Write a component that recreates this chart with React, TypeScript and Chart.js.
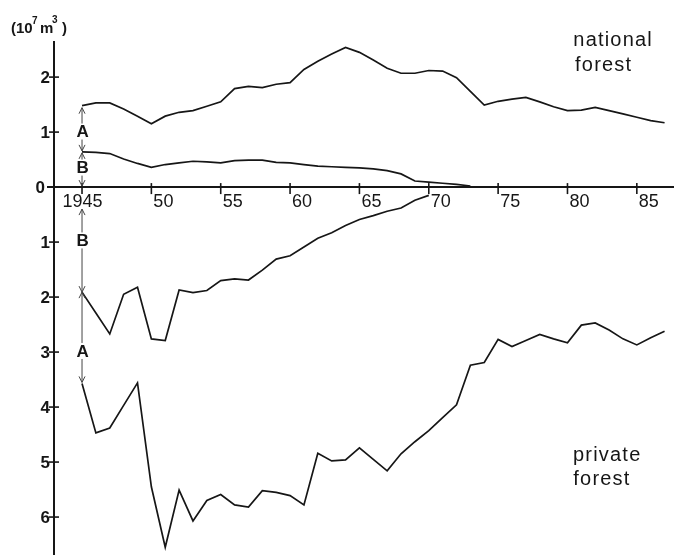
import React, { useEffect, useRef } from 'react';
import { Chart, registerables } from 'chart.js';

Chart.register(...registerables);

// ---- data (10^7 m3) ----
const years = [
  1945, 1946, 1947, 1948, 1949, 1950, 1951, 1952, 1953, 1954,
  1955, 1956, 1957, 1958, 1959, 1960, 1961, 1962, 1963, 1964,
  1965, 1966, 1967, 1968, 1969, 1970, 1971, 1972, 1973, 1974,
  1975, 1976, 1977, 1978, 1979, 1980, 1981, 1982, 1983, 1984,
  1985, 1986, 1987,
];

// national forest: total (A + B), plotted above the axis
const nationalTotal = [
  1.48, 1.53, 1.53, 1.42, 1.29, 1.15, 1.29, 1.36, 1.39, 1.47,
  1.55, 1.79, 1.83, 1.81, 1.87, 1.90, 2.14, 2.29, 2.42, 2.54,
  2.45, 2.31, 2.16, 2.07, 2.07, 2.12, 2.11, 1.99, 1.74, 1.49,
  1.56, 1.60, 1.63, 1.55, 1.46, 1.39, 1.40, 1.45, 1.39, 1.33,
  1.27, 1.21, 1.17,
];

// national forest: part B (1945-1973)
const nationalB = [
  0.64, 0.63, 0.61, 0.51, 0.43, 0.36, 0.41, 0.44, 0.47, 0.46,
  0.44, 0.48, 0.49, 0.49, 0.45, 0.44, 0.41, 0.38, 0.37, 0.36,
  0.35, 0.33, 0.30, 0.24, 0.11, 0.09, 0.07, 0.05, 0.02,
];

// private forest: part B (1945-1970), plotted below the axis
const privateB = [
  1.91, 2.29, 2.67, 1.95, 1.82, 2.76, 2.79, 1.87, 1.92, 1.88,
  1.70, 1.67, 1.69, 1.51, 1.31, 1.25, 1.09, 0.93, 0.83, 0.70,
  0.59, 0.52, 0.44, 0.38, 0.24, 0.15,
];

// private forest: total (A + B), plotted below the axis
const privateTotal = [
  3.57, 4.47, 4.38, 3.97, 3.56, 5.45, 6.55, 5.51, 6.07, 5.70,
  5.59, 5.78, 5.82, 5.52, 5.55, 5.61, 5.78, 4.84, 4.98, 4.96,
  4.74, 4.95, 5.16, 4.85, 4.63, 4.43, 4.19, 3.96, 3.24, 3.19,
  2.77, 2.90, 2.79, 2.68, 2.76, 2.83, 2.51, 2.47, 2.60, 2.76,
  2.87, 2.74, 2.62,
];

const xTickYears = [1945, 1950, 1955, 1960, 1965, 1970, 1975, 1980, 1985];
const xTickLabels = ['1945', '50', '55', '60', '65', '70', '75', '80', '85'];
const yTickValues = [2, 1, 0, -1, -2, -3, -4, -5, -6];
const yTickLabels = ['2', '1', '0', '1', '2', '3', '4', '5', '6'];

const FONT = '"Liberation Sans", Arial, Helvetica, sans-serif';
const INK = '#161616';

function toPoints(vals: number[], sign: number) {
  return vals.map((v, i) => ({ x: years[i], y: sign * v }));
}

const overlay = {
  id: 'overlay',
  afterDraw(chart: any) {
    const { ctx, chartArea, scales } = chart;
    const X = (v: number) => scales.x.getPixelForValue(v);
    const Y = (v: number) => scales.y.getPixelForValue(v);
    const left = chartArea.left;
    const right = chartArea.right;
    const y0 = Y(0);

    const seg = (x1: number, y1: number, x2: number, y2: number) => {
      ctx.beginPath();
      ctx.moveTo(x1, y1);
      ctx.lineTo(x2, y2);
      ctx.stroke();
    };

    ctx.save();
    ctx.strokeStyle = INK;
    ctx.fillStyle = INK;

    // axes
    ctx.lineWidth = 2;
    seg(left, chartArea.top - 2, left, chartArea.bottom);
    seg(left - 7, y0, right, y0);

    // y ticks + labels
    ctx.lineWidth = 1.6;
    ctx.font = `bold 17px ${FONT}`;
    ctx.textAlign = 'right';
    ctx.textBaseline = 'middle';
    yTickValues.forEach((v, i) => {
      const py = Y(v);
      if (v !== 0) {
        seg(left - 5, py, left + 5, py);
        ctx.fillText(yTickLabels[i], left - 4, py + 1);
      } else {
        ctx.fillText(yTickLabels[i], left - 9, py + 1);
      }
    });

    // x ticks + labels
    ctx.font = `18px ${FONT}`;
    ctx.textBaseline = 'alphabetic';
    xTickYears.forEach((yr, i) => {
      const px = X(yr);
      seg(px, y0 - 4, px, y0 + 7);
      if (i === 0) {
        ctx.textAlign = 'center';
        ctx.fillText(xTickLabels[i], px + 0.5, y0 + 20);
      } else {
        ctx.textAlign = 'left';
        ctx.fillText(xTickLabels[i], px + 2, y0 + 20);
      }
    });

    // A / B brackets at the first year
    const ax = X(years[0]);
    const brackets = [
      { letter: 'A', upper: nationalTotal[0], lower: nationalB[0], at: 1.01, gapU: 2, gapL: 1 },
      { letter: 'B', upper: nationalB[0], lower: 0, at: 0.355, gapU: 1, gapL: 1 },
      { letter: 'B', upper: 0, lower: -privateB[0], at: -0.97, gapU: 22, gapL: 0 },
      { letter: 'A', upper: -privateB[0], lower: -privateTotal[0], at: -2.98, gapU: 0, gapL: 1 },
    ];
    const head = (x: number, y: number, dir: number) => {
      seg(x, y, x - 3, y + dir * 6);
      seg(x, y, x + 3, y + dir * 6);
    };
    brackets.forEach((b) => {
      const ly = Y(b.at);
      const tu = Y(b.upper) + b.gapU;
      const tl = Y(b.lower) - b.gapL;
      ctx.strokeStyle = '#444';
      ctx.lineWidth = 1;
      seg(ax, ly - 8, ax, tu);
      head(ax, tu, 1);
      seg(ax, ly + 8, ax, tl);
      head(ax, tl, -1);
      ctx.fillStyle = INK;
      ctx.font = `bold 17px ${FONT}`;
      ctx.textAlign = 'center';
      ctx.textBaseline = 'middle';
      ctx.fillText(b.letter, ax + 0.5, ly + 1);
    });

    // series names
    ctx.fillStyle = INK;
    ctx.font = `20px ${FONT}`;
    ctx.textAlign = 'left';
    ctx.textBaseline = 'alphabetic';
    (ctx as any).letterSpacing = '1.2px';
    ctx.fillText('national', X(1980.42), Y(2.57));
    ctx.fillText('forest', X(1980.55), Y(2.115));
    ctx.fillText('private', X(1980.4), Y(-4.98));
    ctx.fillText('forest', X(1980.42), Y(-5.41));
    (ctx as any).letterSpacing = '0px';

    // unit label (10^7 m^3)
    ctx.font = `bold 15px ${FONT}`;
    ctx.fillText('(10', 11, 33);
    ctx.font = `bold 10px ${FONT}`;
    ctx.fillText('7', 32, 24);
    ctx.font = `bold 15px ${FONT}`;
    ctx.fillText('m', 40, 33);
    ctx.font = `bold 10px ${FONT}`;
    ctx.fillText('3', 52, 23);
    ctx.font = `bold 15px ${FONT}`;
    ctx.fillText(')', 62, 33);

    ctx.restore();
  },
};

export default function App() {
  const ref = useRef<HTMLCanvasElement | null>(null);

  useEffect(() => {
    document.body.style.margin = '0';
    document.body.style.background = '#ffffff';
    const canvas = ref.current;
    if (!canvas) return;
    const lineStyle = {
      borderColor: INK,
      borderWidth: 1.7,
      pointRadius: 0,
      fill: false,
      tension: 0,
    };
    const chart = new Chart(canvas, {
      type: 'line',
      data: {
        datasets: [
          { label: 'national forest total', data: toPoints(nationalTotal, 1), ...lineStyle },
          { label: 'national forest B', data: toPoints(nationalB, 1), ...lineStyle },
          { label: 'private forest B', data: toPoints(privateB, -1), ...lineStyle },
          { label: 'private forest total', data: toPoints(privateTotal, -1), ...lineStyle },
        ],
      },
      options: {
        responsive: false,
        animation: false,
        devicePixelRatio: 1,
        layout: { padding: { left: 54, top: 43, right: 0, bottom: 0 } },
        plugins: { legend: { display: false }, tooltip: { enabled: false } },
        scales: {
          x: { type: 'linear', min: 1942.98, max: 1987.68, display: false },
          y: { type: 'linear', min: -6.69, max: 2.62, display: false },
        },
      },
      plugins: [overlay],
    } as any);
    return () => chart.destroy();
  }, []);

  return (
    <div style={{ width: 674, height: 555, background: '#ffffff' }}>
      <canvas ref={ref} width={674} height={555} style={{ display: 'block' }} />
    </div>
  );
}
